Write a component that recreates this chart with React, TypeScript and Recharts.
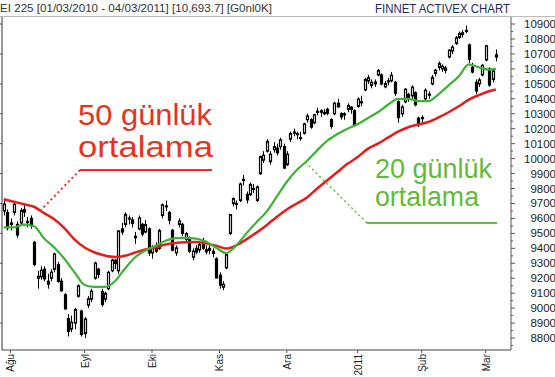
import { ComposedChart, Bar, Line, XAxis, YAxis } from 'recharts'

// Nikkei 225 daily candles, 29 Jul 2010 - 4 Mar 2011
const openP = [
  9650, 9640, 9560, 9640, 9560, 9570, 9660, 9580, 9600, 9440, 9200, 9210, 9260, 9180, 9200, 9260, 9290, 9180, 9090, 8930,
  8860, 8900, 9080, 8980, 8830, 9020, 9060, 9200, 9260, 9110, 9060, 9130, 9250, 9320, 9250, 9530, 9560, 9600, 9590, 9480,
  9530, 9560, 9510, 9530, 9370, 9420, 9400, 9620, 9680, 9640, 9520, 9370, 9560, 9560, 9460, 9470, 9340, 9400, 9390, 9440,
  9390, 9400, 9380, 9330, 9220, 9140, 9270, 9500, 9700, 9700, 9720, 9860, 9760, 9760, 9800, 9720, 9900, 9990, 10050, 9980,
  10060, 10070, 10080, 10080, 9960, 10130, 10170, 10160, 10140, 10170, 10260, 10260, 10240, 10310, 10320, 10300, 10330, 10260, 10300, 10370,
  10300, 10300, 10330, 10330, 10320, 10350, 10380, 10460, 10520, 10490, 10500, 10560, 10560, 10480, 10520, 10520, 10510, 10380, 10300, 10380,
  10430, 10420, 10440, 10270, 10270, 10400, 10430, 10500, 10570, 10610, 10600, 10590, 10680, 10720, 10770, 10810, 10830, 10850, 10760, 10610,
  10510, 10500, 10560, 10660, 10600, 10530, 10680,
]
const highP = [
  9720, 9660, 9600, 9710, 9580, 9670, 9690, 9610, 9620, 9450, 9250, 9280, 9280, 9230, 9260, 9370, 9310, 9200, 9100, 8960,
  8950, 9000, 9160, 8990, 8940, 9080, 9130, 9310, 9270, 9130, 9110, 9250, 9330, 9330, 9520, 9570, 9640, 9620, 9610, 9510,
  9620, 9570, 9590, 9540, 9420, 9440, 9530, 9700, 9720, 9650, 9530, 9420, 9600, 9570, 9510, 9480, 9400, 9420, 9440, 9470,
  9420, 9420, 9400, 9340, 9240, 9180, 9370, 9630, 9740, 9720, 9840, 9890, 9780, 9840, 9830, 9820, 10020, 10050, 10130, 10050,
  10110, 10100, 10140, 10100, 10050, 10180, 10200, 10180, 10180, 10240, 10300, 10270, 10300, 10340, 10330, 10330, 10340, 10270, 10380, 10400,
  10310, 10310, 10370, 10350, 10330, 10410, 10420, 10540, 10560, 10530, 10530, 10600, 10570, 10520, 10540, 10580, 10520, 10390, 10360, 10470,
  10440, 10490, 10450, 10280, 10290, 10470, 10450, 10560, 10600, 10650, 10630, 10620, 10730, 10760, 10820, 10850, 10860, 10890, 10770, 10640,
  10530, 10540, 10630, 10760, 10610, 10600, 10730,
]
const lowP = [
  9620, 9520, 9520, 9620, 9470, 9560, 9610, 9540, 9530, 9280, 9130, 9190, 9180, 9130, 9180, 9240, 9170, 9110, 8990, 8810,
  8840, 8860, 9070, 8810, 8800, 9000, 9040, 9190, 9200, 9010, 9040, 9120, 9240, 9260, 9230, 9490, 9540, 9560, 9540, 9430,
  9520, 9480, 9500, 9350, 9330, 9370, 9390, 9600, 9650, 9560, 9380, 9350, 9540, 9480, 9440, 9370, 9320, 9360, 9370, 9390,
  9360, 9360, 9340, 9200, 9130, 9120, 9260, 9490, 9680, 9660, 9710, 9820, 9700, 9750, 9770, 9710, 9890, 9970, 10040, 9960,
  10040, 10020, 10060, 9930, 9950, 10110, 10150, 10130, 10120, 10160, 10240, 10200, 10230, 10290, 10280, 10290, 10290, 10200, 10290, 10340,
  10260, 10260, 10310, 10300, 10220, 10340, 10350, 10450, 10500, 10470, 10480, 10550, 10490, 10470, 10490, 10510, 10420, 10240, 10280, 10370,
  10380, 10400, 10350, 10210, 10240, 10390, 10400, 10490, 10550, 10590, 10580, 10570, 10670, 10700, 10760, 10800, 10810, 10840, 10640, 10570,
  10430, 10480, 10550, 10650, 10480, 10510, 10650,
]
const closeP = [
  9696, 9537, 9570, 9694, 9489, 9653, 9642, 9572, 9551, 9292, 9212, 9253, 9196, 9161, 9240, 9362, 9179, 9116, 8995, 8845,
  8906, 8991, 9149, 8824, 8927, 9062, 9114, 9301, 9226, 9024, 9098, 9239, 9321, 9299, 9516, 9509, 9626, 9602, 9566, 9471,
  9603, 9495, 9559, 9369, 9404, 9381, 9518, 9691, 9684, 9588, 9388, 9403, 9583, 9500, 9498, 9381, 9381, 9376, 9426, 9401,
  9377, 9387, 9366, 9202, 9154, 9159, 9358, 9625, 9732, 9694, 9830, 9861, 9724, 9827, 9797, 9811, 10013, 10022, 10115, 10030,
  10080, 10039, 10125, 9937, 10029, 10168, 10178, 10167, 10141, 10232, 10285, 10211, 10293, 10316, 10310, 10309, 10303, 10216, 10370, 10346,
  10279, 10292, 10355, 10344, 10228, 10398, 10380, 10529, 10541, 10510, 10512, 10589, 10499, 10502, 10518, 10557, 10437, 10274, 10345, 10464,
  10401, 10478, 10360, 10237, 10274, 10457, 10431, 10543, 10592, 10635, 10617, 10606, 10725, 10746, 10808, 10836, 10842, 10857, 10665, 10579,
  10452, 10526, 10624, 10754, 10492, 10586, 10694,
]

// moving averages, read every third session
const maIdx = [
  0, 3, 6, 9, 12, 15, 18, 21, 24, 27, 30, 33, 36, 39, 42, 45, 48, 51, 54, 57, 60, 63, 66, 69, 72,
  75, 78, 81, 84, 87, 90, 93, 96, 99, 102, 105, 108, 111, 114, 117, 120, 123, 126, 129, 132, 135, 138, 141, 144, 146,
]
const ma20 = [
  9540, 9540, 9558, 9548, 9465, 9405, 9330, 9240, 9155, 9142, 9142, 9180, 9265, 9340, 9385, 9415, 9450, 9468, 9470, 9465,
  9445, 9405, 9368, 9420, 9500, 9575, 9645, 9745, 9845, 9925, 9985, 10055, 10120, 10165, 10200, 10230, 10270, 10310, 10360, 10400,
  10400, 10385, 10385, 10430, 10490, 10550, 10630, 10610, 10595, 10600,
]
const ma50 = [
  9728, 9712, 9695, 9678, 9635, 9595, 9535, 9460, 9405, 9372, 9352, 9342, 9350, 9372, 9392, 9405, 9425, 9435, 9440, 9442,
  9433, 9418, 9398, 9420, 9460, 9505, 9555, 9610, 9660, 9700, 9740, 9800, 9855, 9910, 9965, 10010, 10065, 10100, 10140, 10180,
  10210, 10228, 10245, 10275, 10310, 10350, 10395, 10425, 10450, 10462,
]

const monthIdx = [2, 24, 44, 64, 84, 105, 124, 143]
const monthLabels = ['Ağu', 'Eyl', 'Eki', 'Kas', 'Ara', '2011', 'Şub', 'Mar']

const priceTicks = [
  8800, 8900, 9000, 9100, 9200, 9300, 9400, 9500, 9600, 9700, 9800, 9900,
  10000, 10100, 10200, 10300, 10400, 10500, 10600, 10700, 10800, 10900,
]
const allTicks = [...priceTicks, ...priceTicks.map((t) => t - 50)].sort((a, b) => a - b)

const SLOTS = 151
const rows: any[] = Array.from({ length: SLOTS }, (_, i) => {
  const r: any = { i }
  if (i < closeP.length) {
    r.range = [lowP[i], highP[i]]
    r.o = openP[i]
    r.c = closeP[i]
  }
  return r
})
maIdx.forEach((d, k) => {
  rows[d].ma20 = ma20[k]
  rows[d].ma50 = ma50[k]
})

const FONT = '"Liberation Sans", Arial, sans-serif'

function Candle(props: any) {
  const { x, y, width, height, payload } = props
  if (!payload || !payload.range) return null
  const [lo, hi] = payload.range
  const k = hi === lo ? 0 : height / (hi - lo)
  const cx = Math.round(x + width / 2) + 0.5
  const top = y + (hi - Math.max(payload.o, payload.c)) * k
  const bot = y + (hi - Math.min(payload.o, payload.c)) * k
  const up = payload.c >= payload.o
  return (
    <g>
      <line x1={cx} x2={cx} y1={y} y2={y + height} stroke="#000" strokeWidth={1} />
      <rect x={cx - 1} y={top} width={2} height={Math.max(bot - top, 1)} fill={up ? '#fff' : '#000'} stroke="#000" strokeWidth={1.2} />
    </g>
  )
}

function PriceTick(props: any) {
  const { x, y, payload } = props
  const major = payload.value % 100 === 0
  return (
    <g>
      <line x1={x} x2={x + (major ? 4 : 2)} y1={y} y2={y} stroke="#555" />
      {major && (
        <text x={x + 45} y={y + 4} textAnchor="end" fontSize={11.5} fill="#222" fontFamily={FONT}>
          {payload.value}
        </text>
      )}
    </g>
  )
}

function LeftTick(props: any) {
  const { x, y } = props
  return <line x1={x - 2} x2={x} y1={y} y2={y} stroke="#555" />
}

function MonthTick(props: any) {
  const { x, y, payload } = props
  const k = monthIdx.indexOf(payload.value)
  if (k < 0) return null
  return (
    <g>
      <line x1={x} x2={x} y1={y} y2={y + 3} stroke="#555" />
      <text
        x={x + 4}
        y={y + 4}
        transform={`rotate(-90, ${x + 4}, ${y + 4})`}
        textAnchor="end"
        fontSize={10}
        fill="#222"
        fontFamily={FONT}
      >
        {monthLabels[k]}
      </text>
    </g>
  )
}

export default function App() {
  return (
    <div style={{ position: 'absolute', left: 0, top: 0, width: 555, height: 377, background: '#fff', overflow: 'hidden' }}>
      <ComposedChart width={555} height={377} data={rows} margin={{ top: 17, right: 0, bottom: 0, left: 0 }}>
        <XAxis
          dataKey="i"
          type="category"
          interval={0}
          height={27}
          tickSize={0}
          tickMargin={0}
          tick={<MonthTick />}
          axisLine={{ stroke: '#444' }}
          tickLine={false}
        />
        <YAxis
          yAxisId="l"
          orientation="left"
          width={2}
          domain={[8720, 10947]}
          allowDataOverflow
          ticks={allTicks}
          tickSize={0}
          tickMargin={0}
          tick={<LeftTick />}
          axisLine={{ stroke: '#333' }}
          tickLine={false}
        />
        <YAxis
          yAxisId="r"
          orientation="right"
          width={44}
          domain={[8720, 10947]}
          allowDataOverflow
          ticks={allTicks}
          tickSize={0}
          tickMargin={0}
          tick={<PriceTick />}
          axisLine={{ stroke: '#555' }}
          tickLine={false}
          interval={0}
        />
        <Bar yAxisId="r" dataKey="range" shape={<Candle />} isAnimationActive={false} />
        <Line
          yAxisId="r"
          dataKey="ma50"
          type="monotone"
          stroke="#e41c1c"
          strokeWidth={2.5}
          dot={false}
          connectNulls
          isAnimationActive={false}
        />
        <Line
          yAxisId="r"
          dataKey="ma20"
          type="monotone"
          stroke="#3cb236"
          strokeWidth={2.2}
          dot={false}
          connectNulls
          isAnimationActive={false}
        />
      </ComposedChart>
      <svg width={555} height={377} style={{ position: 'absolute', left: 0, top: 0, pointerEvents: 'none' }}>
        <line x1={0} x2={555} y1={16.5} y2={16.5} stroke="#bbb" />
        <text x={0} y={12} fontSize={11} fill="#333" fontFamily={FONT} textLength={272} lengthAdjust="spacingAndGlyphs">
          EI 225 [01/03/2010 - 04/03/2011] [10,693.7] [G0nl0K]
        </text>
        <text x={375} y={13} fontSize={12} fill="#1e2a5c" fontFamily={FONT} textLength={135} lengthAdjust="spacingAndGlyphs">
          FINNET ACTIVEX CHART
        </text>

        <text x={78} y={125} fontSize={30} fill="#e8321e" fontFamily={FONT} textLength={134} lengthAdjust="spacingAndGlyphs">
          50 günlük
        </text>
        <text x={78} y={157} fontSize={30} fill="#e8321e" fontFamily={FONT} textLength={135} lengthAdjust="spacingAndGlyphs">
          ortalama
        </text>
        <line x1={80} x2={212} y1={170} y2={170} stroke="#e8321e" strokeWidth={2} />
        <line x1={80} x2={39} y1={170} y2={212} stroke="#e8321e" strokeWidth={2} strokeDasharray="2 3" />

        <text x={375} y={178} fontSize={28} fill="#62ba3a" fontFamily={FONT} textLength={117} lengthAdjust="spacingAndGlyphs">
          20 günlük
        </text>
        <text x={375} y={206} fontSize={28} fill="#62ba3a" fontFamily={FONT} textLength={104} lengthAdjust="spacingAndGlyphs">
          ortalama
        </text>
        <line x1={367} x2={497} y1={223} y2={223} stroke="#62ba3a" strokeWidth={2} />
        <line x1={367} x2={303} y1={223} y2={160} stroke="#62ba3a" strokeWidth={1.5} strokeDasharray="2 3" />
      </svg>
    </div>
  )
}
